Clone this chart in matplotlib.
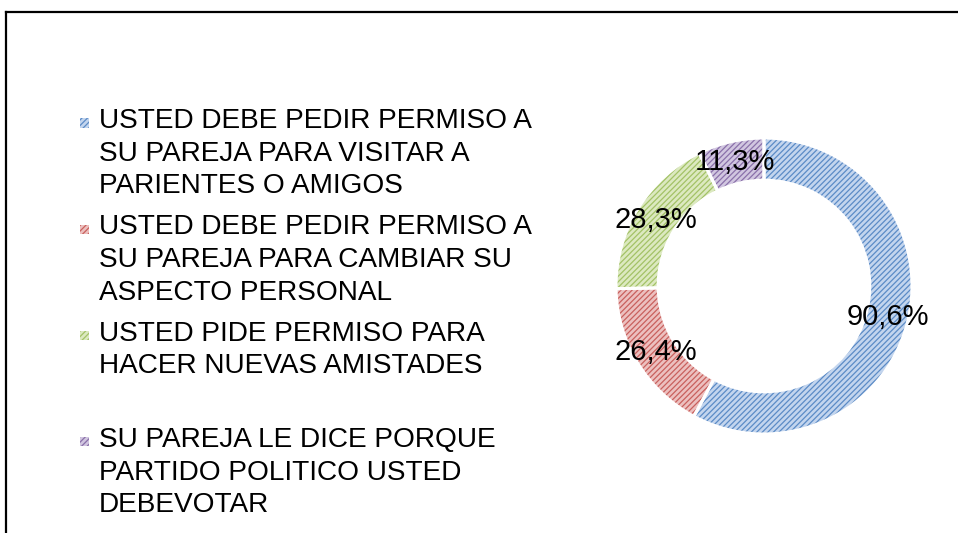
import numpy as np
import matplotlib
matplotlib.use("Agg")
import matplotlib.pyplot as plt
from matplotlib.patches import Rectangle
from matplotlib.lines import Line2D

# ---------------- data ----------------
labels = [
    "USTED DEBE PEDIR PERMISO A\nSU PAREJA PARA VISITAR A\nPARIENTES O AMIGOS",
    "USTED DEBE PEDIR PERMISO A\nSU PAREJA PARA CAMBIAR SU\nASPECTO PERSONAL",
    "USTED PIDE PERMISO PARA\nHACER NUEVAS AMISTADES",
    "SU PAREJA LE DICE PORQUE\nPARTIDO POLITICO USTED\nDEBEVOTAR",
]
values = [90.6, 26.4, 28.3, 11.3]
value_labels = ["90,6%", "26,4%", "28,3%", "11,3%"]

# ---------------- styles ----------------
face_colors = ["#c3d5ee", "#ecc0bf", "#dce9c0", "#d1c6e0"]
hatch_colors = ["#5b8bc6", "#c9605d", "#a3c266", "#8a70aa"]
FONT = "Liberation Sans"
FS = 20.2
FS_PCT = 21

W, H = 958, 533
fig = plt.figure(figsize=(W / 100, H / 100), dpi=100)
fig.patch.set_facecolor("white")
plt.rcParams["hatch.linewidth"] = 0.9


def fx(px):
    return px / W


def fy(py):
    return 1 - py / H


# outer frame (chart border, partially cropped)
fig.add_artist(Line2D([fx(5.5), fx(5.5)], [fy(11.5), fy(H + 5)], color="black", lw=1.6,
                      transform=fig.transFigure))
fig.add_artist(Line2D([fx(5.5), fx(W + 5)], [fy(11.5), fy(11.5)], color="black", lw=1.6,
                      transform=fig.transFigure))

# ---------------- donut ----------------
cx, cy, R = 764, 286, 148
ax = fig.add_axes([fx(cx - R), fy(cy + R), 2 * R / W, 2 * R / H])

ring = 0.285
wedges, _ = ax.pie(values, startangle=90, counterclock=False, radius=1.0,
                   colors=face_colors,
                   wedgeprops=dict(width=ring, linewidth=0))
for w, hc in zip(wedges, hatch_colors):
    w.set_edgecolor(hc)
    w.set_linewidth(0)
    w.set_hatch("//////")

edges, _ = ax.pie(values, startangle=90, counterclock=False, radius=1.0,
                  colors=["none"] * len(values),
                  wedgeprops=dict(width=ring, linewidth=2.2, edgecolor="white"))

ax.set_xlim(-1, 1)
ax.set_ylim(-1, 1)
ax.set_aspect("equal")
ax.axis("off")

label_r = 0.86
for w, txt in zip(wedges, value_labels):
    ang = np.deg2rad((w.theta1 + w.theta2) / 2)
    ax.text(label_r * np.cos(ang), label_r * np.sin(ang), txt, ha="center", va="center",
            fontsize=FS_PCT, family=FONT, color="black")

# ---------------- legend ----------------
first_baseline = 128
slot = 106.3
line_step = 32.7
text_x = 99
for i, (lab, fc, hc) in enumerate(zip(labels, face_colors, hatch_colors)):
    base = first_baseline + i * slot
    for j, line in enumerate(lab.split("\n")):
        fig.text(fx(text_x), fy(base + j * line_step), line, ha="left", va="baseline",
                 fontsize=FS, family=FONT, color="black")
    sq = 9
    rect = Rectangle((fx(80), fy(base - 5 + sq / 2)), sq / W, sq / H,
                     transform=fig.transFigure, facecolor=fc, edgecolor=hc,
                     linewidth=0, hatch="//////")
    fig.add_artist(rect)

fig.savefig("out.png", dpi=100, facecolor="white")
